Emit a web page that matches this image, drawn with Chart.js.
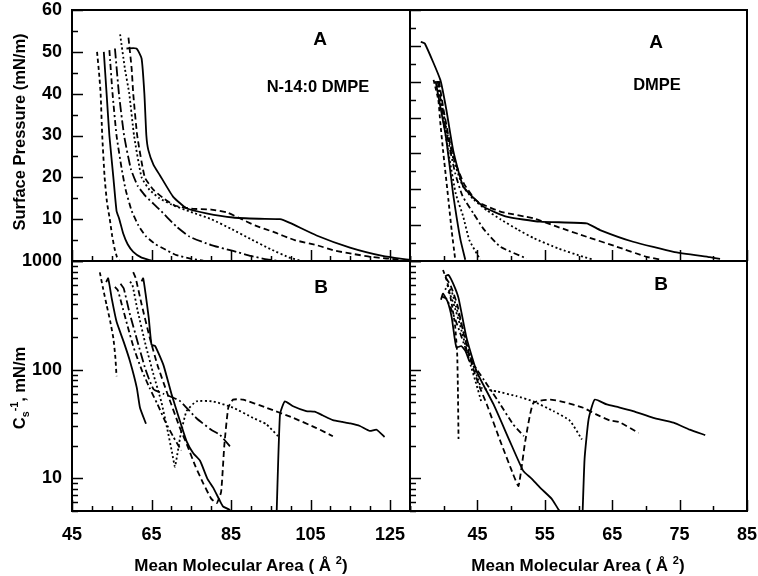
<!DOCTYPE html>
<html>
<head>
<meta charset="utf-8">
<script src="https://cdn.jsdelivr.net/npm/chart.js@4.4.1/dist/chart.umd.min.js"></script>
<style>
  body { margin: 0; background: #fff; }
  #page { position: relative; width: 758px; height: 576px; overflow: hidden; background: #fff;
          font-family: 'Liberation Sans', Arial, Helvetica, sans-serif; font-weight: bold; color: #000; }
  canvas { position: absolute; left: 0; top: 0; }
  .t { position: absolute; white-space: nowrap; line-height: 1; transform: translate(-50%, -50%); }
  .rot { transform: translate(-50%, -50%) rotate(-90deg); }
  sup, sub { font-size: 0.65em; line-height: 0; }
</style>
</head>
<body>
<div id="page">
  <canvas id="tl" width="758" height="576"></canvas>
  <canvas id="tr" width="758" height="576"></canvas>
  <canvas id="bl" width="758" height="576"></canvas>
  <canvas id="br" width="758" height="576"></canvas>

  <div class="t rot" style="left:19px; top:132px; font-size:16.5px;">Surface Pressure (mN/m)</div>
  <div class="t rot" style="left:19px; top:388px; font-size:16.5px;">C<sub>s</sub><sup>-1</sup>, mN/m</div>
  <div class="t" style="left:241px; top:565px; font-size:17px;">Mean Molecular Area ( Å <sup>2</sup>)</div>
  <div class="t" style="left:578px; top:565px; font-size:17px;">Mean Molecular Area ( Å <sup>2</sup>)</div>

  <div class="t" style="left:320px; top:38px; font-size:19px;">A</div>
  <div class="t" style="left:318px; top:86px; font-size:16.5px;">N-14:0 DMPE</div>
  <div class="t" style="left:656px; top:41px; font-size:19px;">A</div>
  <div class="t" style="left:657px; top:84px; font-size:16.5px;">DMPE</div>
  <div class="t" style="left:321px; top:286px; font-size:19px;">B</div>
  <div class="t" style="left:661px; top:283px; font-size:19px;">B</div>
</div>

<script>
// tick labels
const xLabelsLeft = [45, 65, 85, 105, 125];
const xLabelsRight = [45, 55, 65, 75, 85];
const piLabels = [10, 20, 30, 40, 50, 60];
const csLabels = [10, 100, 1000];

// N-14:0 DMPE, surface pressure (mN/m) vs area
const nPiA = [[51.3,50],[51.8,45],[52.2,40],[52.6,30],[53.2,20],[53.8,14],[54.5,10],[55.1,6],[55.7,3],[56.3,1],[57,0]];
const nPiB = [[53,50],[53.7,40],[54.4,30],[55.4,20],[56.2,12],[56.9,10],[57.9,6.5],[59,4],[60.4,2.2],[62.5,0.8],[65,0.1]];
const nPiC = [[54.4,50.4],[55.2,40],[56.2,30],[57.5,22],[58.5,17],[60,12],[61.7,8.5],[63.5,6],[66,4],[68,3],[71,1.5],[75,0.5],[78,0.1]];
const nPiD = [[55.8,50.8],[56.8,40],[58.1,30],[59.8,22],[61.5,18],[63.5,15.5],[66.7,12.6],[71.3,8.2],[74.6,5.8],[80,3.8],[85.5,2.4],[90,1.2],[94,0.4],[97,0]];
const nPiE = [[57.1,54.2],[58.3,46],[59.4,40],[60.6,30],[62.5,20],[64.5,17],[67,15],[70,13.5],[75,11.7],[80,10],[85,7.7],[90,5.2],[95,2.8],[100,0.7],[103,0]];
const nPiF = [[59.2,53.4],[60,46],[60.4,40],[61.4,30],[63.3,20],[65.5,17],[68,15],[71,13.2],[75,12.5],[80,12.3],[84,11.6],[87,10.3],[91,8.5],[95.5,7],[101,5],[106.5,3.8],[111,2.5],[115.6,1.7],[120,1],[124,0.6],[128,0.3]];
const nPiG = [[58.7,50.8],[61.2,50.8],[62.5,48.4],[63.2,40],[63.7,30],[64.2,26.5],[65.5,23],[67.1,20.5],[70.4,15.4],[73.8,12.6],[78.8,11.4],[85.5,10.4],[92,10.1],[97.3,10],[99.8,9.1],[106.5,6.1],[114.9,3.2],[123.1,1.2],[128,0.5],[130,0.3]];

// DMPE, surface pressure (mN/m) vs area
const dPiA = [[38.5,43.3],[39.2,38.5],[39.5,33],[39.9,26.5],[40.7,14.6],[41.2,7],[41.7,0.5]];
const dPiB = [[38.8,43],[39.6,36],[40.3,30],[40.9,22.5],[41.4,16],[41.9,10.6],[42.5,5],[43.2,0.3]];
const dPiC = [[39,43],[39.7,36],[40.3,30],[40.9,24],[41.8,16],[42.9,10.6],[43.8,5],[45.4,0.4]];
const dPiD = [[39.1,43],[39.8,36],[40.5,30],[41.7,21],[42.8,15.5],[44.4,11.4],[46,7.5],[48.4,3.4],[52.3,0.6]];
const dPiE = [[39.2,43],[39.9,36],[40.6,30],[41.5,24],[42.8,18],[44.5,14.6],[46.5,12],[48.4,10],[51,7.5],[53.3,5.5],[57,3],[60.7,1],[62,0.4]];
const dPiF = [[39.3,43],[40,36],[40.7,30],[41.6,24],[43,18.5],[44.5,15],[45.4,13.8],[48.4,11.8],[53.3,10.2],[56.8,8.2],[61.2,5.8],[65.7,3.4],[70.1,1],[72,0.4]];
const dPiG = [[36.6,52.4],[37.2,52],[39.5,43.3],[40.4,36.1],[41.4,26.5],[42.9,17.8],[45.9,13],[49.3,10.6],[54.3,9.4],[61.2,9],[63.2,7.4],[68.1,4.6],[74.1,2.2],[79.5,0.9],[81,0.5]];

// N-14:0 DMPE, compressional modulus Cs^-1 (mN/m)
const nCsA = [[52.0,787],[52.8,560],[53.7,394],[54.6,280],[55.4,195],[55.9,130],[56.2,87]];
const nCsB = [[53.6,640],[54.1,693],[55,450],[56.2,277],[58,180],[59.6,119],[61.3,68],[62.1,44.6],[63.6,31.8]];
const nCsC = [[55.8,577],[56.5,540],[57.5,400],[59,250],[60.5,160],[62.5,100],[64.5,68],[66.5,48],[68.5,33],[70.5,24],[72.5,18]];
const nCsD = [[57.2,617],[58,560],[59.5,330],[61.5,180],[63.5,100],[65.5,66],[68,60],[72.1,51.6],[76.3,35.7],[80,28],[82.2,25.1],[84.7,19.7]];
const nCsE = [[59.6,646],[60.2,600],[61.5,350],[63.5,170],[65.5,90],[67.5,50],[69,28],[70.2,17],[70.9,12.8],[72.3,25],[73.8,41.5],[76.3,51],[80.5,51],[85.5,44.7],[90.5,36],[93.9,31.4],[96.8,24.4]];
const nCsF = [[60.4,790],[61,700],[62.5,400],[64.5,200],[66.5,110],[69,60],[72,30],[74,20],[76,13],[78,9],[80,6.5],[81.4,5.9],[82.5,7.5],[83.3,20],[84.3,44.6],[85.5,53],[88,53],[93.9,44.6],[100.6,36],[106.5,29],[110.6,24.4]];
const nCsG = [[62.5,650],[62.9,693],[63.5,500],[64.3,300],[65,169],[65.9,165],[68,110],[70,60],[72,35],[73.8,22],[75.5,17],[77.2,14.5],[79,10],[80.5,8.2],[82.2,6.2],[83,5.5],[84.7,5.1],[85.2,4.5],[90,null],[96.3,3],[97.3,38.6],[98.5,51],[100.6,46],[103.9,41.5],[106,41],[108,38],[110.6,34.3],[113,33],[115,32],[117.4,30.3],[119.9,27.3],[121.6,28],[123.6,24]];

// DMPE, compressional modulus Cs^-1 (mN/m)
const dCsA = [[39.9,826],[40.5,650],[41.2,400],[41.7,250],[42,140],[42.1,70],[42.2,23]];
const dCsB = [[39.6,440],[39.9,500],[40.6,420],[41.2,300],[41.6,200],[41.9,160],[42.6,165],[43.2,150],[43.8,120]];
const dCsC = [[40.2,560],[40.9,500],[41.6,380],[42.4,260],[43.2,170],[44,110],[44.8,75],[45.6,50]];
const dCsD = [[39.7,471],[40.4,450],[41.2,350],[42.2,240],[43.2,160],[44.5,110],[46,80],[47.2,62],[48.4,47.8],[50.3,31.4],[51.9,24.4]];
const dCsE = [[40.5,600],[41.2,520],[42,350],[43,220],[44,130],[45,85],[45.6,68],[47.9,63],[50.8,57],[53.3,51],[56.3,41.5],[58.7,34],[60.5,22.8]];
const dCsF = [[40.3,700],[41,600],[42,400],[43,210],[44.2,111],[45.3,70],[46.4,47.8],[48.4,22],[50.3,10.9],[51.1,8.5],[52.1,22],[53.3,49.4],[55.8,53],[58,50],[60.7,44.6],[62.7,38.6],[64.7,34],[66,33],[68.9,26.2]];
const dCsG = [[40.2,720],[40.7,745],[41.5,600],[42.2,455],[43.4,195],[44.9,96],[47.4,47.8],[49.8,22],[51.8,11.7],[53,10],[54.3,8.2],[56,6.5],[57,5.2],[57.8,4.5],[59,null],[60.5,3],[60.9,15],[61.5,35],[62.4,53],[64.2,47.8],[66,45],[68.1,41.5],[71.1,36],[74.1,32.5],[76.5,28],[78.8,25]];

// line styles
const SOLID = [];
const SHORT = [4, 3];
const DASH = [6, 3.5];
const DOT = [2, 2.5];
const DASHDOT = [6, 3, 2, 3];
const LONGDD = [10, 3, 2, 3];

Chart.defaults.font.family = "'Liberation Sans', Arial, Helvetica, sans-serif";
Chart.defaults.font.size = 18;
Chart.defaults.font.weight = 'bold';
Chart.defaults.color = '#000';

function steps(a, b, d) {
    const out = [];
    for (let k = 0; a + k * d <= b + 1e-9; k++) out.push(a + k * d);
    return out;
}
// tick mark positions (values on each axis)
const xTicksLeft = steps(45, 130, 5);
const xTicksRight = steps(35, 85, 5);
const yTicksPi = steps(0, 60, 5);
const yTicksPiRight = steps(0, 60, 60 / 14);
const yTicksCs = [5, 6, 7, 8, 9].concat(steps(10, 90, 10), steps(100, 900, 100), [1000]);

const isDecade = v => Math.abs(Math.log10(v) - Math.round(Math.log10(v))) < 1e-9;

// inward tick marks and panel frame, drawn last
function frame(cfg) {
    return {
        id: 'frame',
        afterDraw(chart) {
            const ctx = chart.ctx;
            const a = chart.chartArea;
            const x = chart.scales.x;
            const y = chart.scales.y;
            ctx.save();
            ctx.setLineDash([]);
            ctx.globalAlpha = 1;
            ctx.globalCompositeOperation = 'source-over';
            ctx.strokeStyle = '#000';
            ctx.lineWidth = 1.5;
            cfg.xTicks.forEach((v, i) => {
                const px = Math.round(x.getPixelForValue(v)) + 0.5;
                const len = cfg.xMajor(v, i) ? 11 : 5;
                ctx.beginPath();
                ctx.moveTo(px, a.bottom);
                ctx.lineTo(px, a.bottom - len);
                ctx.stroke();
            });
            cfg.yTicks.forEach((v, i) => {
                const py = Math.round(y.getPixelForValue(v)) + 0.5;
                const len = cfg.yMajor(v, i) ? 11 : 6;
                ctx.beginPath();
                ctx.moveTo(a.left, py);
                ctx.lineTo(a.left + len, py);
                ctx.stroke();
            });
            ctx.lineWidth = 2;
            ctx.strokeRect(a.left, a.top, a.right - a.left, a.bottom - a.top);
            ctx.restore();
        }
    };
}

function panel(id, box, xScale, yScale, series, cfg) {
    const ctx = document.getElementById(id).getContext('2d');
    const yW = cfg.yLabels.length ? box[0] : 0;
    const xH = cfg.xLabels.length ? 576 - box[3] : 0;
    return new Chart(ctx, {
        type: 'line',
        data: {
            datasets: series.map(s => ({
                data: s[0].map(p => ({ x: p[0], y: p[1] })),
                borderColor: '#000',
                borderWidth: 1.8,
                borderDash: s[1],
                pointRadius: 0,
                tension: 0.15,
                fill: false,
                spanGaps: false
            }))
        },
        options: {
            responsive: false,
            animation: false,
            events: [],
            layout: {
                autoPadding: false,
                padding: { left: box[0] - yW, top: box[1], right: 758 - box[2], bottom: 576 - box[3] - xH }
            },
            plugins: { legend: { display: false }, tooltip: { enabled: false } },
            scales: {
                x: Object.assign({
                    type: 'linear',
                    grid: { display: false, drawTicks: false },
                    border: { display: false },
                    afterFit: s => { s.height = xH; s.paddingLeft = 0; s.paddingRight = 0; },
                    ticks: { stepSize: 5, autoSkip: false, maxRotation: 0, padding: 13,
                             callback: v => cfg.xLabels.includes(v) ? String(v) : '' }
                }, xScale),
                y: Object.assign({
                    grid: { display: false, drawTicks: false },
                    border: { display: false },
                    afterFit: s => { s.width = yW; s.paddingTop = 0; s.paddingBottom = 0; },
                    ticks: { autoSkip: false, padding: 10, stepSize: cfg.yStep,
                             callback: v => cfg.yLabels.includes(v) ? String(v) : '' }
                }, yScale)
            }
        },
        plugins: [frame(cfg)]
    });
}

const leftMajor = v => (v - 45) % 20 === 0;
const rightMajor = v => v >= 45 && (v - 45) % 10 === 0;

panel('tl', [72, 10, 410, 261], { min: 45, max: 130 }, { type: 'linear', min: 0, max: 60 },
    [[nPiA, SHORT], [nPiB, SOLID], [nPiC, DASHDOT], [nPiD, LONGDD], [nPiE, DOT], [nPiF, DASH], [nPiG, SOLID]],
    { xLabels: [], yLabels: piLabels, yStep: 5, xTicks: xTicksLeft, yTicks: yTicksPi,
      xMajor: leftMajor, yMajor: v => v % 10 === 0 });

panel('tr', [410, 10, 747, 261], { min: 35, max: 85 }, { type: 'linear', min: 0, max: 60 },
    [[dPiA, SHORT], [dPiB, SOLID], [dPiC, DOT], [dPiD, DASHDOT], [dPiE, DOT], [dPiF, DASH], [dPiG, SOLID]],
    { xLabels: [], yLabels: [], yStep: 10, xTicks: xTicksRight, yTicks: yTicksPiRight,
      xMajor: rightMajor, yMajor: (v, i) => i % 2 === 0 });

panel('bl', [72, 261, 410, 511], { min: 45, max: 130 }, { type: 'logarithmic', min: 5, max: 1000 },
    [[nCsA, SHORT], [nCsB, SOLID], [nCsC, DASHDOT], [nCsD, LONGDD], [nCsE, DOT], [nCsF, DASH], [nCsG, SOLID]],
    { xLabels: xLabelsLeft, yLabels: csLabels, xTicks: xTicksLeft, yTicks: yTicksCs,
      xMajor: leftMajor, yMajor: isDecade });

panel('br', [410, 261, 747, 511], { min: 35, max: 85 }, { type: 'logarithmic', min: 5, max: 1000 },
    [[dCsA, SHORT], [dCsB, SOLID], [dCsC, DOT], [dCsD, DASHDOT], [dCsE, DOT], [dCsF, DASH], [dCsG, SOLID]],
    { xLabels: xLabelsRight, yLabels: [], xTicks: xTicksRight, yTicks: yTicksCs,
      xMajor: rightMajor, yMajor: isDecade });
</script>
</body>
</html>
